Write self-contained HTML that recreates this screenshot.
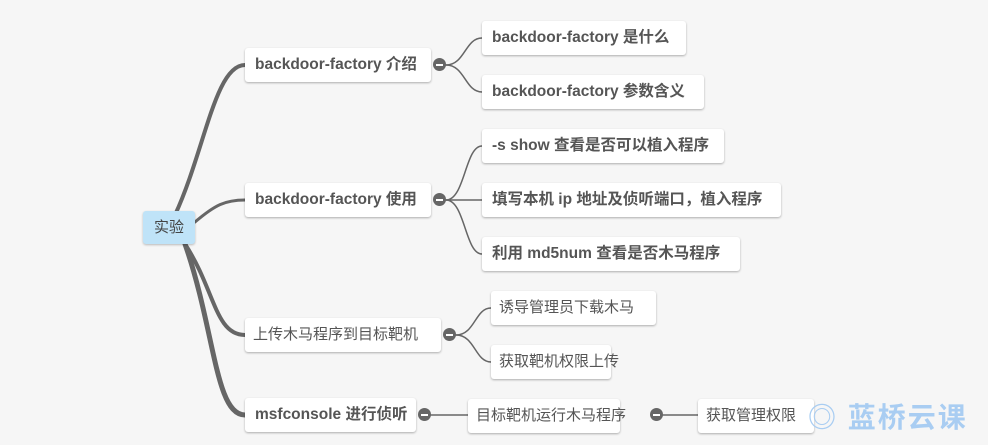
<!DOCTYPE html>
<html><head><meta charset="utf-8"><style>
body{margin:0;width:988px;height:445px;background:#f6f6f6;position:relative;overflow:hidden;font-family:"Liberation Sans","Noto Sans CJK SC",sans-serif;}
.n{position:absolute;height:34px;line-height:34px;background:#fff;border-radius:3px;box-shadow:0 1px 2px rgba(0,0,0,.3);color:#555;font-size:15.5px;font-weight:bold;padding:0 0 0 10px;box-sizing:border-box;white-space:nowrap}
.m{font-weight:normal;font-size:15px;padding-left:8px}
.r{position:absolute;left:143px;top:211px;width:52px;height:33px;line-height:33px;background:#bfe3f8;border-radius:3px;box-shadow:0 1px 2px rgba(0,0,0,.25);text-align:center;color:#444;font-size:15px}
.c{position:absolute;width:13px;height:13px;border-radius:50%;background:#666}
.c:after{content:"";position:absolute;left:3px;top:5.5px;width:7px;height:2px;background:#fff}
.w{position:absolute;left:808px;top:396px;color:#a9cdf2;font-size:28px;font-weight:bold;letter-spacing:2px}
</style></head><body>
<svg width="988" height="445" style="position:absolute;left:0;top:0">
<g fill="none" stroke="#666" stroke-linecap="round">
<path d="M175 215 C205 150,215 65,245 65" stroke-width="4"/>
<path d="M195 222 C215 205,225 200,245 200" stroke-width="3"/>
<path d="M185 244 C215 290,215 335,245 335" stroke-width="4"/>
<path d="M185 244 C215 330,215 415,245 415" stroke-width="5"/>
<g stroke-width="1.5">
<path d="M446 65 C465 65,465 38,482 38"/><path d="M446 65 C465 65,465 92,482 92"/>
<path d="M446 200 C465 200,465 146,482 146"/><path d="M446 200 L482 200"/><path d="M446 200 C465 200,465 254,482 254"/>
<path d="M456 335 C475 335,475 308,491 308"/><path d="M456 335 C475 335,475 362,491 362"/>
<path d="M431 415 L468 415"/><path d="M663 415 L698 415"/>
</g></g></svg>
<div class="r">实验</div>
<div class="n" style="left:245px;top:48px;width:186px">backdoor-factory 介绍</div>
<div class="n" style="left:245px;top:183px;width:186px">backdoor-factory 使用</div>
<div class="n m" style="left:245px;top:318px;width:196px">上传木马程序到目标靶机</div>
<div class="n" style="left:245px;top:398px;width:171px">msfconsole 进行侦听</div>
<div class="c" style="left:433px;top:58px"></div>
<div class="c" style="left:433px;top:193px"></div>
<div class="c" style="left:443px;top:328px"></div>
<div class="c" style="left:418px;top:408px"></div>
<div class="c" style="left:650px;top:408px"></div>
<div class="n" style="left:482px;top:21px;width:204px">backdoor-factory 是什么</div>
<div class="n" style="left:482px;top:75px;width:222px">backdoor-factory 参数含义</div>
<div class="n" style="left:482px;top:129px;width:242px">-s show 查看是否可以植入程序</div>
<div class="n" style="left:482px;top:183px;width:299px">填写本机 ip 地址及侦听端口，植入程序</div>
<div class="n" style="left:482px;top:237px;width:258px">利用 md5num 查看是否木马程序</div>
<div class="n m" style="left:491px;top:291px;width:165px">诱导管理员下载木马</div>
<div class="n m" style="left:491px;top:345px;width:120px">获取靶机权限上传</div>
<div class="n m" style="left:468px;top:399px;width:152px">目标靶机运行木马程序</div>
<div class="n m" style="left:698px;top:399px;width:116px">获取管理权限</div>
<div class="w">◎ 蓝桥云课</div>
</body></html>
